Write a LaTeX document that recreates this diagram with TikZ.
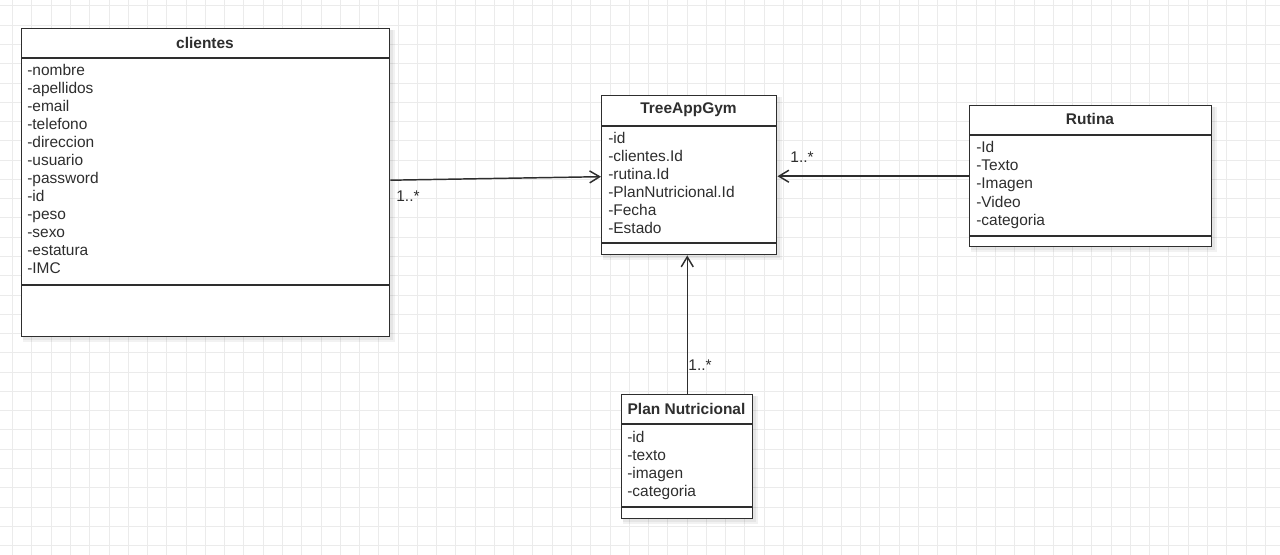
\documentclass[tikz,border=0pt]{standalone}
\usepackage{fontspec}
\setmainfont{Liberation Sans}
\usetikzlibrary{arrows.meta}
\definecolor{gridc}{HTML}{EBEBEB}
\definecolor{ink}{HTML}{2E2E2E}
\newcommand\boxshadow[4]{%
  \fill[black,opacity=0.05] (#1+2,#2+2) rectangle (#3+6,#4+6);
  \fill[black,opacity=0.05] (#1+2,#2+2) rectangle (#3+4,#4+4);}
\begin{document}
\begin{tikzpicture}[x=0.75pt,y=-0.75pt,
  font=\fontsize{11.6}{14}\selectfont,
  box/.style={draw=ink, line width=1.1pt, fill=white, inner sep=0pt, anchor=north west},
  attr/.style={anchor=west, inner sep=0pt, text=ink, text height=0.72em, text depth=0.22em},
  ttl/.style={inner sep=0pt, text=ink, font=\fontsize{11.6}{14}\selectfont\bfseries},
  sep/.style={draw=ink, line width=1.1pt},
  arr/.style={draw=ink, line width=1.1pt, -{Straight Barb[length=7.5pt,width=9pt]}},
  mult/.style={inner sep=0pt, text=ink}]
\useasboundingbox (0,0) rectangle (1280,555);
\fill[white] (0,0) rectangle (1280,555);
\foreach \i in {0,...,66} \draw[gridc, line width=0.75pt] ({12.7+19.27*\i},0) -- ({12.7+19.27*\i},555);
\foreach \i in {0,...,28} \draw[gridc, line width=0.75pt] (0,{6+19.27*\i}) -- (1280,{6+19.27*\i});

% shadows
\boxshadow{21}{28}{389}{336}
\boxshadow{601}{95}{776}{254}
\boxshadow{969}{105}{1211}{246}
\boxshadow{621}{394}{752}{518}

% clientes
\node[box, minimum width={368*0.75pt}, minimum height={308*0.75pt}] (clientes) at (21,28) {};
\draw[sep] (21,58) -- (389,58);
\draw[sep] (21,285) -- (389,285);
\node[ttl] (clientesT) at (205,42.5) {clientes};
\foreach \t [count=\i] in {-nombre,-apellidos,-email,-telefono,-direccion,-usuario,-password,-id,-peso,-sexo,-estatura,-IMC}
  \node[attr] (cl\i) at (27,{72+18*(\i-1)}) {\t};

% TreeAppGym
\node[box, minimum width={175*0.75pt}, minimum height={159*0.75pt}] (tree) at (601,95) {};
\draw[sep] (601,126) -- (776,126);
\draw[sep] (601,243) -- (776,243);
\node[ttl] (treeT) at (688.5,110) {TreeAppGym};
\foreach \t [count=\i] in {-id,-clientes.Id,-rutina.Id,-PlanNutricional.Id,-Fecha,-Estado}
  \node[attr] (tr\i) at (608,{140+18*(\i-1)}) {\t};

% Rutina
\node[box, minimum width={242*0.75pt}, minimum height={141*0.75pt}] (rutina) at (969,105) {};
\draw[sep] (969,135) -- (1211,135);
\draw[sep] (969,236) -- (1211,236);
\node[ttl] (rutinaT) at (1090,119) {Rutina};
\foreach \t [count=\i] in {-Id,-Texto,-Imagen,-Video,-categoria}
  \node[attr] (ru\i) at (976,{149+18.25*(\i-1)}) {\t};

% Plan Nutricional
\node[box, minimum width={131*0.75pt}, minimum height={124*0.75pt}] (plan) at (621,394) {};
\draw[sep] (621,424) -- (752,424);
\draw[sep] (621,507) -- (752,507);
\node[ttl] (planT) at (686.5,409) {Plan Nutricional};
\foreach \t [count=\i] in {-id,-texto,-imagen,-categoria}
  \node[attr] (pl\i) at (627,{439+18*(\i-1)}) {\t};

% connectors
\draw[arr] ([yshift=1.9pt]clientes.east) -- ([yshift=-1.1pt]tree.west);
\draw[arr] (rutina.west) -- (rutina.west -| tree.east);
\draw[arr] (plan.north) -- (plan.north |- tree.south);

\node[mult] (m1) at (408,196) {1..*};
\node[mult] (m2) at (802,157) {1..*};
\node[mult] (m3) at (700,365) {1..*};
\end{tikzpicture}
\end{document}
